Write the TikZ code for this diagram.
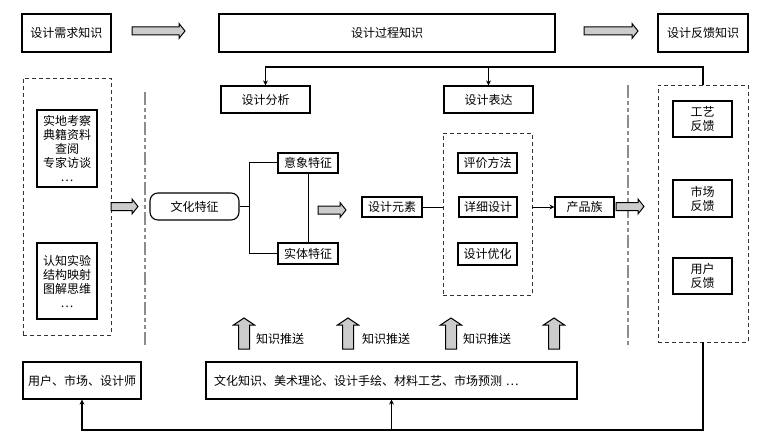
\documentclass[tikz,border=0pt]{standalone}
\usepackage{fontspec}
\setmainfont{Noto Sans CJK SC}
\usetikzlibrary{arrows.meta}
\tikzset{
  bx/.style={draw=black, line width=1.1pt, inner sep=0pt, align=center, font=\fontsize{12}{14}\selectfont},
  dbox/.style={draw=black!80, line width=0.9pt, dash pattern=on 4pt off 3pt, inner sep=0pt},
  conn/.style={draw=black, line width=1.3pt},
  thin/.style={draw=black, line width=1pt},
  tip/.style={-{Stealth[length=5pt,width=5pt]}},
  harr/.style={draw=black, line width=1pt, fill=black!20},
  gline/.style={draw=black!45, line width=1.2pt, dash pattern=on 13pt off 3pt on 4pt off 3pt on 4pt off 3pt},
  lbl/.style={inner sep=0pt, font=\fontsize{12}{14}\selectfont}
}
\newcommand{\hollowH}[3]{%
  \draw[harr] (#1,#3-4) -- (#2-6,#3-4) -- (#2-6,#3-7.5) -- (#2,#3) -- (#2-6,#3+7.5) -- (#2-6,#3+4) -- (#1,#3+4) -- cycle;}
\newcommand{\hollowU}[3]{%
  \draw[harr] (#1-5.5,#3) -- (#1-5.5,#2+7) -- (#1-10.5,#2+7) -- (#1,#2) -- (#1+10.5,#2+7) -- (#1+5.5,#2+7) -- (#1+5.5,#3) -- cycle;}
\begin{document}
\begin{tikzpicture}[x=1pt,y=-1pt]
\useasboundingbox[fill=white] (0,0) rectangle (774,441);
% top row
\node[bx, minimum width=89pt, minimum height=38pt] (req) at (66.5,33) {设计需求知识};
\node[bx, minimum width=336pt, minimum height=38pt] (proc) at (387,33) {设计过程知识};
\node[bx, minimum width=90pt, minimum height=38pt] (fb) at (703,33) {设计反馈知识};
\hollowH{132}{185}{31}
\hollowH{584}{638}{31}
% analysis / expression
\node[bx, minimum width=89pt, minimum height=27pt] (ana) at (265.5,99.5) {设计分析};
\node[bx, minimum width=89pt, minimum height=27pt] (exp) at (488.5,99.5) {设计表达};
% grey separators
\coordinate (g1a) at (145,92); \coordinate (g1b) at (145,345);
\coordinate (g2a) at (628,85); \coordinate (g2b) at (628,348);
\draw[gline] (g1a) -- (g1b);
\draw[gline] (g2a) -- (g2b);
% left dashed group
\node[dbox, minimum width=88pt, minimum height=257pt] (ldash) at (67,206.5) {};
\node[bx, minimum width=60pt, minimum height=77pt] (src1) at (67,148.5) {实地考察\\典籍资料\\查阅\\专家访谈\\⋯};
\node[bx, minimum width=60pt, minimum height=76pt] (src2) at (67,281) {认知实验\\结构映射\\图解思维\\⋯};
\hollowH{111}{138}{206.5}
% culture features
\node[bx, rounded corners=8pt, minimum width=89pt, minimum height=27pt] (cult) at (194.5,206.5) {文化特征};
\node[bx, minimum width=60pt, minimum height=20pt] (img) at (308,163) {意象特征};
\node[bx, minimum width=60pt, minimum height=21pt] (ent) at (308,253.5) {实体特征};
\coordinate (brk) at (249.5,206.5);
\draw[thin] (cult.east) -- (brk);
\draw[thin] (img.west) -| (brk) |- (ent.west);
\draw[thin] (img.south) -- (ent.north);
\hollowH{318}{346}{210}
\node[bx, minimum width=60pt, minimum height=20pt] (elem) at (392,207) {设计元素};
% middle dashed group
\node[dbox, minimum width=89pt, minimum height=162pt] (mdash) at (487.5,214) {};
\node[bx, minimum width=59pt, minimum height=20pt] (eval) at (487.5,163) {评价方法};
\node[bx, minimum width=58pt, minimum height=20pt] (det) at (488,207) {详细设计};
\node[bx, minimum width=59pt, minimum height=22pt] (opt) at (487.5,254) {设计优化};
\draw[thin] (elem.east) -- (elem.east -| mdash.west);
\node[bx, minimum width=59pt, minimum height=20pt] (prod) at (584.5,207) {产品族};
\draw[thin, tip] (prod.west -| mdash.east) -- (prod.west);
\hollowH{616}{644}{206.5}
% feedback dashed group
\node[dbox, minimum width=90pt, minimum height=257pt] (fbk) at (703,213.5) {};
\node[bx, minimum width=59pt, minimum height=36pt] (craft) at (702.5,119) {工艺\\反馈};
\node[bx, minimum width=59pt, minimum height=37pt] (mkt) at (702.5,198.5) {市场\\反馈};
\node[bx, minimum width=59pt, minimum height=36pt] (usr) at (702.5,276) {用户\\反馈};
% top connector
\coordinate (topj) at (703,67);
\draw[conn, tip] (fbk.north) -- (topj) -| (ana.north);
\draw[conn, tip] (topj -| exp.north) -- (exp.north);
% knowledge push arrows
\hollowU{244}{318}{349}
\hollowU{348}{318}{349}
\hollowU{451}{318}{349}
\hollowU{554}{318}{349}
\node[lbl, anchor=west] (p1) at (256,339) {知识推送};
\node[lbl, anchor=west] (p2) at (362,339) {知识推送};
\node[lbl, anchor=west] (p3) at (463,339) {知识推送};
% bottom row
\node[bx, minimum width=118pt, minimum height=37pt] (users) at (82,380.5) {用户、市场、设计师};
\node[bx, minimum height=37pt, text width=355pt, inner xsep=8pt, align=left] (kn) at (391.5,380.5) {文化知识、美术理论、设计手绘、材料工艺、市场预测 ⋯};
\coordinate (botj) at (703,430);
\draw[conn, tip] (fbk.south) -- (botj) -| (users.south);
\draw[conn, tip] (botj -| kn.south) -- (kn.south);
\end{tikzpicture}
\end{document}
